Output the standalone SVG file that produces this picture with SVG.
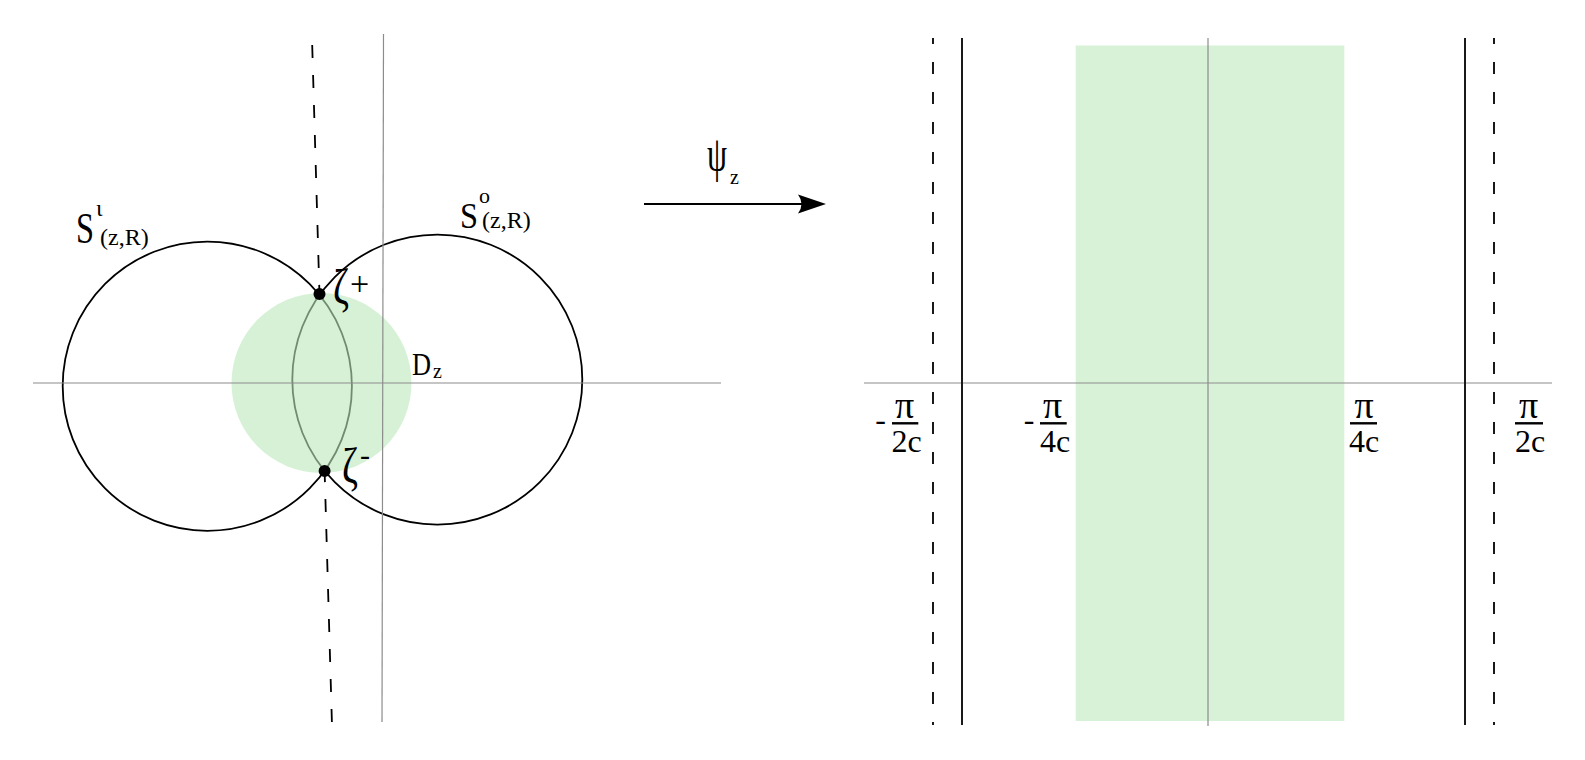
<svg xmlns="http://www.w3.org/2000/svg" width="1585" height="760" viewBox="0 0 1585 760">
<style>
.axis{stroke:#8c8c8c;stroke-width:1.2;fill:none}
.curve{stroke:#000;stroke-width:1.8;fill:none}
.dashL{stroke:#000;stroke-width:1.8;stroke-dasharray:13 17;fill:none}
.dashR{stroke:#000;stroke-width:1.8;stroke-dasharray:12 18;stroke-dashoffset:6;fill:none}
.solid{stroke:#1a1a1a;stroke-width:2;fill:none}
.bar{stroke:#000;stroke-width:2.4}
.t{font-family:"Liberation Serif","DejaVu Serif",serif;fill:#000}
.frac{font-family:"Liberation Serif","DejaVu Serif",serif;fill:#000;font-size:32px;text-anchor:middle}
.pi{font-size:38px}
</style>
<defs>
<marker id="ah" markerUnits="userSpaceOnUse" markerWidth="30" markerHeight="22" refX="17" refY="10" orient="auto">
<path d="M0,0.5 L28,10 L0,19.5 Q7,10 0,0.5Z" fill="#000"/>
</marker>
</defs>
<rect width="1585" height="760" fill="#fff"/>

<g id="left-plane">
<circle id="circle-inner" cx="207.3" cy="386.2" r="144.6" class="curve"/>
<circle id="circle-outer" cx="437.3" cy="379.6" r="145" class="curve"/>
<circle id="disk-Dz" cx="321.5" cy="383" r="90" fill="rgb(188,232,188)" fill-opacity="0.6"/>
<line x1="33" y1="383" x2="721" y2="383" class="axis"/>
<line x1="383.5" y1="34" x2="382" y2="722" class="axis"/>
<line x1="312.2" y1="45" x2="319.5" y2="295" class="dashL"/>
<line x1="331.9" y1="722" x2="324.6" y2="470.8" class="dashL"/>
<circle cx="319.5" cy="294" r="6" fill="#000"/>
<circle cx="324.6" cy="471" r="6" fill="#000"/>
</g>

<g id="label-S-inner">
<text class="t" x="76" y="243" font-size="44" textLength="18" lengthAdjust="spacingAndGlyphs">S</text>
<text class="t" x="96" y="216" font-size="24">ι</text>
<text class="t" x="100" y="245" font-size="24">(z,R)</text>
</g>
<g id="label-S-outer">
<text class="t" x="460" y="228" font-size="36" textLength="18" lengthAdjust="spacingAndGlyphs">S</text>
<text class="t" x="479" y="203" font-size="22">o</text>
<text class="t" x="482" y="228" font-size="24">(z,R)</text>
</g>
<g id="label-zeta-plus">
<text class="t" x="333" y="304" font-size="50" textLength="16" lengthAdjust="spacingAndGlyphs">ζ</text>
<text class="t" x="350" y="295" font-size="34">+</text>
</g>
<g id="label-zeta-minus">
<text class="t" x="342" y="483" font-size="50" textLength="16" lengthAdjust="spacingAndGlyphs">ζ</text>
<text class="t" x="360" y="465" font-size="30">-</text>
</g>
<g id="label-Dz">
<text class="t" x="412" y="375" font-size="32" textLength="19" lengthAdjust="spacingAndGlyphs">D</text>
<text class="t" x="433" y="378" font-size="20">z</text>
</g>

<g id="connectors">
<line x1="644" y1="204" x2="815" y2="204" stroke="#000" stroke-width="2.2" marker-end="url(#ah)"/>
</g>
<g id="label-psi">
<text class="t" x="707" y="171" font-size="50" textLength="20" lengthAdjust="spacingAndGlyphs">ψ</text>
<text class="t" x="730" y="184" font-size="20">z</text>
</g>

<g id="right-plane">
<rect id="strip" x="1075.7" y="45.5" width="268.6" height="675.5" fill="#d8f2d8"/>
<line x1="864" y1="383" x2="1552" y2="383" class="axis"/>
<line x1="1208" y1="38" x2="1208" y2="726" class="axis"/>
<line x1="962" y1="38" x2="962" y2="725" class="solid"/>
<line x1="1465" y1="38" x2="1465" y2="725" class="solid"/>
<line x1="933" y1="38" x2="933" y2="725" class="dashR"/>
<line x1="1494" y1="38" x2="1494" y2="725" class="dashR"/>
</g>

<g id="label-minus-pi-2c">
<text class="frac" x="880.5" y="430">-</text>
<text class="frac pi" x="904.5" y="418">π</text>
<line x1="892" y1="423.3" x2="918.3" y2="423.3" class="bar"/>
<text class="frac" x="906.5" y="451.7">2c</text>
</g>
<g id="label-minus-pi-4c">
<text class="frac" x="1029" y="430">-</text>
<text class="frac pi" x="1052.5" y="418">π</text>
<line x1="1040" y1="423.3" x2="1066.7" y2="423.3" class="bar"/>
<text class="frac" x="1055" y="451.7">4c</text>
</g>
<g id="label-pi-4c">
<text class="frac pi" x="1364" y="418">π</text>
<line x1="1350" y1="423.3" x2="1377" y2="423.3" class="bar"/>
<text class="frac" x="1364" y="451.7">4c</text>
</g>
<g id="label-pi-2c">
<text class="frac pi" x="1528.5" y="418">π</text>
<line x1="1515" y1="423.3" x2="1543" y2="423.3" class="bar"/>
<text class="frac" x="1530" y="451.7">2c</text>
</g>
</svg>
